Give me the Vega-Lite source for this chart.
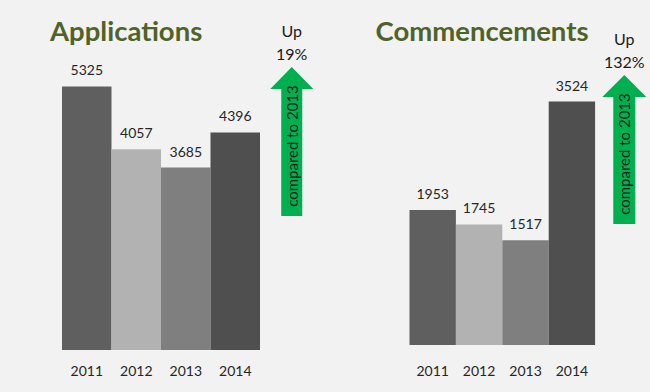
{
  "$schema": "https://vega.github.io/schema/vega-lite/v6.json",
  "background": "#f2f2f2",
  "padding": {"left": 50, "top": 18, "right": 3, "bottom": 14},
  "spacing": 99.5,
  "bounds": "flush",
  "config": {
    "view": {"stroke": null},
    "font": "Lato",
    "axis": {"labelFont": "Lato", "labelFontSize": 14, "labelColor": "#262626", "domain": false, "ticks": false, "grid": false, "title": null, "labelPadding": 14, "labelAngle": 0},
    "title": {"anchor": "start", "font": "Lato", "fontSize": 27.5, "fontWeight": "bold", "color": "#4f6228", "baseline": "alphabetic", "offset": 11}
  },
  "datasets": {
    "applications": [
      {"year": "2011", "value": 5325},
      {"year": "2012", "value": 4057},
      {"year": "2013", "value": 3685},
      {"year": "2014", "value": 4396}
    ],
    "commencements": [
      {"year": "2011", "value": 1953},
      {"year": "2012", "value": 1745},
      {"year": "2013", "value": 1517},
      {"year": "2014", "value": 3524}
    ],
    "appNote": [{"note": "compared to 2013", "change": "19%"}],
    "comNote": [{"note": "compared to 2013", "change": "132%"}]
  },
  "hconcat": [
    {
      "width": 247.5,
      "height": 297,
      "title": {"text": "Applications", "dx": -12, "dy": 33},
      "layer": [
        {
          "data": {"name": "applications"},
          "mark": {"type": "bar"},
          "encoding": {
            "x": {"field": "year", "type": "nominal", "scale": {"domain": ["2011", "2012", "2013", "2014", "A"], "paddingInner": 0, "paddingOuter": 0}, "axis": {"labelExpr": "datum.value == 'A' ? '' : datum.value"}},
            "y": {"field": "value", "type": "quantitative", "scale": {"domain": [0, 6000], "nice": false}, "axis": null},
            "color": {"field": "year", "type": "nominal", "scale": {"domain": ["2011", "2012", "2013", "2014"], "range": ["#5f5f5f", "#b2b2b2", "#7f7f7f", "#4f4f4f"]}, "legend": null}
          }
        },
        {
          "data": {"name": "applications"},
          "mark": {"type": "text", "baseline": "bottom", "dy": -8, "fontSize": 14, "fontWeight": "normal", "color": "#262626"},
          "encoding": {
            "x": {"field": "year", "type": "nominal"},
            "y": {"field": "value", "type": "quantitative", "scale": {"domain": [0, 6000], "nice": false}},
            "text": {"field": "value", "type": "quantitative", "format": "d"}
          }
        },
        {
          "data": {"name": "appNote"},
          "mark": {"type": "point", "shape": "M0,-1L0.289,-0.705L0.141,-0.705L0.141,1L-0.141,1L-0.141,-0.705L-0.289,-0.705Z", "size": 22201, "filled": true, "fill": "#00b050", "opacity": 1, "strokeWidth": 0, "xOffset": 7},
          "encoding": {"x": {"datum": "A", "type": "nominal"}, "y": {"datum": 4212, "type": "quantitative", "scale": {"domain": [0, 6000], "nice": false}}}
        },
        {
          "data": {"name": "appNote"},
          "mark": {"type": "text", "angle": 270, "fontSize": 15, "fontWeight": "normal", "color": "#1a1a1a", "baseline": "middle", "align": "center", "xOffset": 8},
          "encoding": {"x": {"datum": "A", "type": "nominal"}, "y": {"datum": 4121, "type": "quantitative", "scale": {"domain": [0, 6000], "nice": false}}, "text": {"field": "note", "type": "nominal"}}
        },
        {
          "data": {"name": "appNote"},
          "mark": {"type": "text", "fontSize": 16, "fontWeight": "normal", "color": "#1a1a1a", "baseline": "middle", "align": "center", "xOffset": 7, "text": "Up"},
          "encoding": {"x": {"datum": "A", "type": "nominal"}, "y": {"datum": 6424, "type": "quantitative", "scale": {"domain": [0, 6000], "nice": false}}}
        },
        {
          "data": {"name": "appNote"},
          "mark": {"type": "text", "fontSize": 16, "fontWeight": "normal", "color": "#1a1a1a", "baseline": "middle", "align": "center", "xOffset": 7, "dy": 23},
          "encoding": {"x": {"datum": "A", "type": "nominal"}, "y": {"datum": 6424, "type": "quantitative", "scale": {"domain": [0, 6000], "nice": false}}, "text": {"field": "change", "type": "nominal"}}
        }
      ]
    },
    {
      "width": 232,
      "height": 292,
      "title": {"text": "Commencements", "dx": -34, "dy": 25},
      "layer": [
        {
          "data": {"name": "commencements"},
          "mark": {"type": "bar"},
          "encoding": {
            "x": {"field": "year", "type": "nominal", "scale": {"domain": ["2011", "2012", "2013", "2014", "A"], "paddingInner": 0, "paddingOuter": 0}, "axis": {"labelExpr": "datum.value == 'A' ? '' : datum.value", "labelPadding": 19}},
            "y": {"field": "value", "type": "quantitative", "scale": {"domain": [0, 4226], "nice": false}, "axis": null},
            "color": {"field": "year", "type": "nominal", "scale": {"domain": ["2011", "2012", "2013", "2014"], "range": ["#5f5f5f", "#b2b2b2", "#7f7f7f", "#4f4f4f"]}, "legend": null}
          }
        },
        {
          "data": {"name": "commencements"},
          "mark": {"type": "text", "baseline": "bottom", "dy": -8, "fontSize": 14, "fontWeight": "normal", "color": "#262626"},
          "encoding": {
            "x": {"field": "year", "type": "nominal"},
            "y": {"field": "value", "type": "quantitative", "scale": {"domain": [0, 4226], "nice": false}},
            "text": {"field": "value", "type": "quantitative", "format": "d"}
          }
        },
        {
          "data": {"name": "comNote"},
          "mark": {"type": "point", "shape": "M0,-1L0.295,-0.705L0.148,-0.705L0.148,1L-0.148,1L-0.148,-0.705L-0.295,-0.705Z", "size": 22201, "filled": true, "fill": "#00b050", "opacity": 1, "strokeWidth": 0, "xOffset": 6},
          "encoding": {"x": {"datum": "A", "type": "nominal"}, "y": {"datum": 2829, "type": "quantitative", "scale": {"domain": [0, 4226], "nice": false}}}
        },
        {
          "data": {"name": "comNote"},
          "mark": {"type": "text", "angle": 270, "fontSize": 15, "fontWeight": "normal", "color": "#1a1a1a", "baseline": "middle", "align": "center", "xOffset": 7},
          "encoding": {"x": {"datum": "A", "type": "nominal"}, "y": {"datum": 2764, "type": "quantitative", "scale": {"domain": [0, 4226], "nice": false}}, "text": {"field": "note", "type": "nominal"}}
        },
        {
          "data": {"name": "comNote"},
          "mark": {"type": "text", "fontSize": 16, "fontWeight": "normal", "color": "#1a1a1a", "baseline": "middle", "align": "center", "xOffset": 6, "text": "Up"},
          "encoding": {"x": {"datum": "A", "type": "nominal"}, "y": {"datum": 4414, "type": "quantitative", "scale": {"domain": [0, 4226], "nice": false}}}
        },
        {
          "data": {"name": "comNote"},
          "mark": {"type": "text", "fontSize": 16, "fontWeight": "normal", "color": "#1a1a1a", "baseline": "middle", "align": "center", "xOffset": 6, "dy": 23},
          "encoding": {"x": {"datum": "A", "type": "nominal"}, "y": {"datum": 4414, "type": "quantitative", "scale": {"domain": [0, 4226], "nice": false}}, "text": {"field": "change", "type": "nominal"}}
        }
      ]
    }
  ]
}
